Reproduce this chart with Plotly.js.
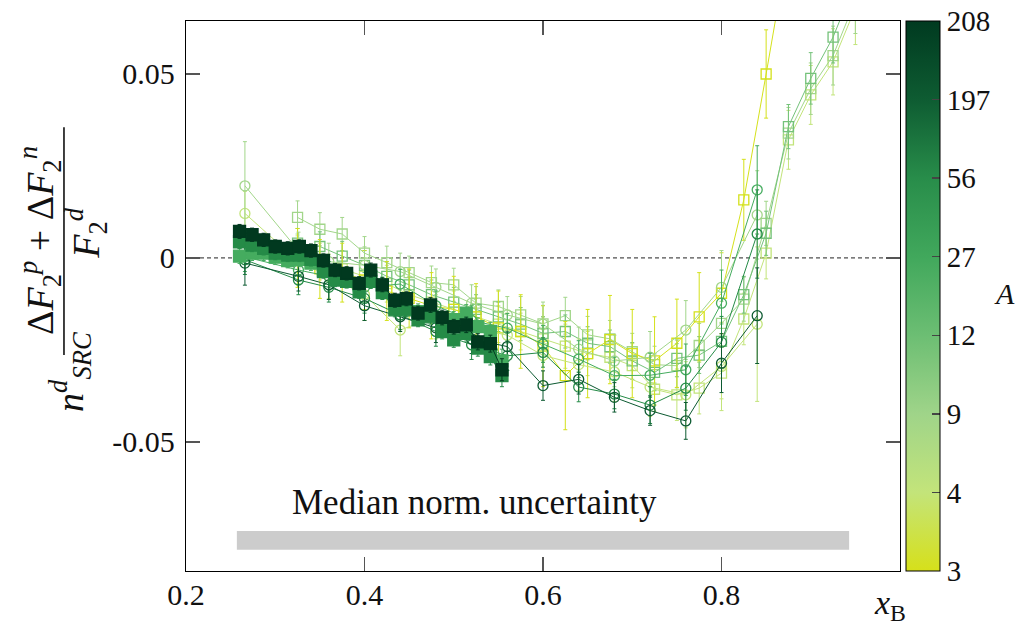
<!DOCTYPE html>
<html>
<head>
<meta charset="utf-8">
<script src="https://cdn.plot.ly/plotly-3.0.1.min.js"></script>
<style>html,body{margin:0;padding:0;background:#fff;}#chart{width:1019px;height:627px;}</style>
</head>
<body>
<div id="chart"></div>
<script>
// ---- colour per nucleus (A) ----
const massNumbers = ['3','4','9','12','27','56','197','208'];
const colA = {'3':'#d4e11b','4':'#c2e47a','9':'#a2d68a','12':'#74c27a','27':'#45ac5f','56':'#258b47','197':'#0c5a31','208':'#01391f'};

// ---- filled squares ----
const xFilled = [0.260,0.274,0.287,0.300,0.314,0.327,0.340,0.354,0.367,0.380,0.394,0.407,0.420,0.434,0.447,0.460,0.474,0.487,0.500,0.514,0.527,0.541,0.554];
const yF208 = [0.0072,0.0063,0.0049,0.0031,0.0026,0.0031,0.0020,-0.0007,-0.0033,-0.0042,-0.0069,-0.0033,-0.0073,-0.0115,-0.0111,-0.0150,-0.0128,-0.0162,-0.0187,-0.0182,-0.0228,-0.0233,-0.0304];
const eF208 = [0.0019,0.0018,0.0018,0.0018,0.0018,0.0018,0.0018,0.0018,0.0018,0.0018,0.0018,0.0019,0.0019,0.0019,0.0019,0.0019,0.0020,0.0020,0.0020,0.0021,0.0022,0.0023,0.0030];
const yF56 = [0.0044,0.0035,0.0026,0.0013,0.0008,0.0008,-0.0004,-0.0037,-0.0060,-0.0064,-0.0092,-0.0064,-0.0094,-0.0141,-0.0141,-0.0168,-0.0160,-0.0200,-0.0223,-0.0205,-0.0245,-0.0268,-0.0320];
const eF56 = [0.0018,0.0018,0.0018,0.0018,0.0018,0.0018,0.0018,0.0018,0.0018,0.0018,0.0018,0.0019,0.0019,0.0019,0.0019,0.0019,0.0020,0.0020,0.0020,0.0021,0.0022,0.0023,0.0030];
const yF27 = [0.0005,0.0013,0.0013,0.0002,-0.0007,-0.0004,-0.0014,-0.0033,-0.0046,-0.0055,-0.0073,-0.0051,-0.0073,-0.0123,-0.0128,-0.0146,-0.0141,-0.0178,-0.0168,-0.0150,-0.0187,-0.0200,-0.0280];
const eF27 = [0.0020,0.0020,0.0020,0.0020,0.0020,0.0020,0.0020,0.0020,0.0020,0.0020,0.0020,0.0021,0.0021,0.0021,0.0021,0.0021,0.0022,0.0022,0.0022,0.0023,0.0024,0.0025,0.0032];

// ---- open squares ----
const xSq = [0.325,0.35,0.375,0.4,0.425,0.45,0.475,0.5,0.525,0.55,0.575,0.6,0.625,0.65,0.675,0.7,0.725,0.75,0.775,0.8,0.825,0.85,0.875,0.9,0.925,0.95];
const xSq3 = [0.325,0.35,0.375,0.4,0.425,0.45,0.475,0.5,0.525,0.55,0.575,0.6,0.625,0.65,0.675,0.7,0.725,0.75,0.775,0.8,0.825,0.85,0.875];
const ySq3 = [0.000,-0.003,-0.004,-0.006,-0.009,-0.011,-0.013,-0.014,-0.016,-0.019,-0.020,-0.024,-0.032,-0.026,-0.0222,-0.026,-0.028,-0.0232,-0.016,-0.0096,0.0158,0.050,0.085];
const eSq3 = [0.008,0.008,0.008,0.008,0.008,0.008,0.009,0.009,0.009,0.010,0.010,0.011,0.0147,0.012,0.012,0.012,0.012,0.012,0.012,0.011,0.011,0.012,0.013];
const ySq4 = [0.001,-0.001,-0.003,-0.005,-0.007,-0.010,-0.012,-0.014,-0.016,-0.018,-0.020,-0.022,-0.024,-0.026,-0.027,-0.0293,-0.0357,-0.0372,-0.0354,-0.0313,-0.0166,0.0013,0.0321,0.0443,0.0533,0.068];
const eSq4 = [0.005,0.005,0.005,0.005,0.005,0.005,0.005,0.005,0.005,0.005,0.005,0.006,0.006,0.006,0.006,0.006,0.006,0.007,0.007,0.007,0.007,0.007,0.008,0.008,0.009,0.010];
const ySq9 = [0.011,0.0078,0.0065,0.0013,-0.0013,-0.004,-0.0067,-0.0073,-0.0123,-0.0132,-0.0155,-0.0179,-0.0157,-0.0209,-0.022,-0.0255,-0.029,-0.0293,-0.0238,-0.0178,-0.0112,0.0094,0.0339,0.046,0.055,0.070];
const eSq9 = [0.0045,0.0045,0.0045,0.0045,0.0045,0.0045,0.0045,0.0045,0.0045,0.0045,0.005,0.005,0.005,0.005,0.005,0.005,0.005,0.006,0.006,0.006,0.006,0.006,0.007,0.007,0.008,0.009];
const ySq12 = [0.004,0.0031,0.0005,-0.002,-0.005,-0.0073,-0.010,-0.012,-0.014,-0.016,-0.018,-0.0205,-0.020,-0.0232,-0.0241,-0.028,-0.0311,-0.0273,-0.0264,-0.0227,-0.010,0.0067,0.0357,0.0488,0.060,0.075];
const eSq12 = [0.004,0.004,0.004,0.004,0.004,0.004,0.004,0.004,0.004,0.004,0.0045,0.0045,0.0045,0.0045,0.0045,0.005,0.005,0.005,0.005,0.005,0.005,0.006,0.006,0.007,0.007,0.008];

// ---- open circles ----
const xC = [0.266,0.326,0.36,0.40,0.44,0.48,0.52,0.56,0.60,0.64,0.68,0.72,0.76,0.80,0.84];
const yC4 = [0.0121,-0.001,-0.005,-0.010,-0.0196,-0.016,-0.019,-0.021,-0.0265,-0.029,-0.031,-0.0351,-0.0372,-0.0295,-0.018];
const eC4 = [0.006,0.006,0.006,0.007,0.007,0.006,0.006,0.006,0.007,0.007,0.008,0.008,0.009,0.012,0.021];
const yC9 = [0.0196,0.002,-0.001,-0.002,-0.0037,-0.008,-0.0123,-0.0155,-0.018,-0.0248,-0.028,-0.027,-0.0196,-0.008,0.0117];
const eC9 = [0.012,0.005,0.005,0.005,0.005,0.005,0.005,0.005,0.006,0.006,0.007,0.007,0.008,0.010,0.012];
const yC27 = [0.0003,-0.0033,-0.005,-0.008,-0.0071,-0.013,-0.017,-0.0191,-0.0234,-0.0275,-0.032,-0.0319,-0.0304,-0.0123,0.0185];
const eC27 = [0.004,0.004,0.004,0.004,0.004,0.004,0.004,0.004,0.005,0.005,0.005,0.006,0.007,0.009,0.012];
const yC56 = [-0.0005,-0.006,-0.008,-0.011,-0.0155,-0.020,-0.0236,-0.0266,-0.0257,-0.0351,-0.037,-0.040,-0.0354,-0.0229,0.0065];
const eC56 = [0.004,0.004,0.004,0.004,0.004,0.004,0.004,0.004,0.004,0.004,0.004,0.005,0.006,0.007,0.012];
const yC197 = [-0.0014,-0.005,-0.0073,-0.013,-0.016,-0.019,-0.022,-0.0241,-0.0347,-0.033,-0.0379,-0.0415,-0.0443,-0.0286,-0.0157];
const eC197 = [0.006,0.004,0.004,0.004,0.004,0.004,0.004,0.004,0.004,0.004,0.004,0.004,0.005,0.008,0.013];

// ---- uncertainty band ----
const bandX = [0.257, 0.943];
const bandY = [-0.0793, -0.0742];
const bandLabel = 'Median norm. uncertainty';

const SERIF = 'Liberation Serif, DejaVu Serif, serif';

function series(x, y, e, A, symbol, size, opts) {
  const c = colA[A];
  return Object.assign({
    type: 'scatter', mode: 'lines+markers', x: x, y: y,
    name: 'A=' + A, showlegend: false, cliponaxis: true,
    line: {color: c, width: 1},
    marker: {symbol: symbol, size: size, color: c, line: {color: c, width: 1.3}},
    error_y: {type: 'data', array: e, visible: true, color: c, thickness: 1, width: 2}
  }, opts || {});
}

const traces = [
  series(xSq, ySq4, eSq4, '4', 'square-open', 10),
  series(xSq, ySq9, eSq9, '9', 'square-open', 10),
  series(xSq, ySq12, eSq12, '12', 'square-open', 10),
  series(xSq3, ySq3, eSq3, '3', 'square-open', 10),
  series(xC, yC4, eC4, '4', 'circle-open', 10),
  series(xC, yC9, eC9, '9', 'circle-open', 10),
  series(xC, yC27, eC27, '27', 'circle-open', 10),
  series(xC, yC56, eC56, '56', 'circle-open', 10),
  series(xC, yC197, eC197, '197', 'circle-open', 10),
  series(xFilled, yF27, eF27, '27', 'square', 12),
  series(xFilled, yF56, eF56, '56', 'square', 12),
  series(xFilled, yF208, eF208, '208', 'square', 12),
  {
    type: 'scatter', mode: 'markers', x: [null], y: [null], showlegend: false, hoverinfo: 'skip',
    marker: {
      color: [0], cmin: 0, cmax: 7, showscale: true,
      colorscale: [[0,'#d6e01a'],[0.143,'#c3e47a'],[0.286,'#9fd489'],[0.429,'#6cbe73'],[0.571,'#41a85c'],[0.714,'#288d4a'],[0.857,'#0e5c32'],[1,'#003a20']],
      colorbar: {
        x: 1.0084, xanchor: 'left', y: 0.5, yanchor: 'middle', len: 1, lenmode: 'fraction',
        thickness: 34, thicknessmode: 'pixels', xpad: 0, ypad: 0,
        outlinecolor: '#000', outlinewidth: 1,
        tickvals: [0,1,2,3,4,5,6,7], ticktext: massNumbers,
        ticks: 'inside', ticklen: 8, tickcolor: '#444', tickwidth: 1.5,
        tickfont: {family: SERIF, size: 29, color: '#111'}
      }
    }
  }
];

const layout = {
  width: 1019, height: 627,
  margin: {l: 186, r: 119, t: 21, b: 56, pad: 0},
  paper_bgcolor: '#fff', plot_bgcolor: '#fff',
  font: {family: SERIF, color: '#111'},
  showlegend: false,
  xaxis: {
    range: [0.2, 1.0], tickvals: [0.2,0.4,0.6,0.8], ticktext: ['0.2','0.4','0.6','0.8'],
    ticks: 'inside', ticklen: 14, tickwidth: 1.5, tickcolor: '#555',
    showline: true, linecolor: '#000', linewidth: 1.2, mirror: 'ticks',
    showgrid: false, zeroline: false, tickfont: {family: SERIF, size: 30, color: '#111'},
    ticklabelstandoff: -3
  },
  yaxis: {
    range: [-0.0851, 0.0644], tickvals: [0.05, 0, -0.05], ticktext: ['0.05','0','-0.05'],
    ticks: 'inside', ticklen: 14, tickwidth: 1.5, tickcolor: '#555',
    showline: true, linecolor: '#000', linewidth: 1.2, mirror: 'ticks',
    showgrid: false, zeroline: false, tickfont: {family: SERIF, size: 30, color: '#111'},
    ticklabelstandoff: 4
  },
  shapes: [
    {type: 'line', xref: 'paper', x0: 0, x1: 1, yref: 'y', y0: 0, y1: 0,
     line: {color: '#222', width: 1, dash: '4px,3px'}, layer: 'below'},
    {type: 'rect', xref: 'x', x0: bandX[0], x1: bandX[1], yref: 'y', y0: bandY[0], y1: bandY[1],
     fillcolor: '#cccccc', line: {width: 0}, layer: 'below'},
    {type: 'line', xref: 'paper', yref: 'paper', x0: -0.1709, x1: -0.1709, y0: 0.3927, y1: 0.807,
     line: {color: '#000', width: 1.5}}
  ],
  annotations: [
    {xref: 'x', yref: 'y', x: 0.5234, y: -0.0666, xanchor: 'center', yanchor: 'middle', text: bandLabel, showarrow: false,
     font: {family: SERIF, size: 35, color: '#111'}},
    {xref: 'paper', yref: 'paper', x: 0.986, y: -0.062, xanchor: 'center', yanchor: 'middle', text: '<i>x</i><sub>B</sub>', showarrow: false,
     font: {family: SERIF, size: 34, color: '#111'}},
    {xref: 'paper', yref: 'paper', x: 1.147, y: 0.505, xanchor: 'center', yanchor: 'middle', text: '<i>A</i>', showarrow: false,
     font: {family: SERIF, size: 30, color: '#111'}},
    {xref: 'paper', yref: 'paper', x: -0.2045, y: 0.6018, xanchor: 'center', yanchor: 'middle', textangle: -90, showarrow: false,
     text: 'Δ<i>F</i><sub>2</sub><sup><i>p</i></sup> + Δ<i>F</i><sub>2</sub><sup><i>n</i></sup>',
     font: {family: SERIF, size: 38, color: '#111'}},
    {xref: 'paper', yref: 'paper', x: -0.140, y: 0.615, xanchor: 'center', yanchor: 'middle', textangle: -90, showarrow: false,
     text: '<i>F</i><sub>2</sub><sup><i>d</i></sup>',
     font: {family: SERIF, size: 38, color: '#111'}},
    {xref: 'paper', yref: 'paper', x: -0.1625, y: 0.362, xanchor: 'center', yanchor: 'middle', textangle: -90, showarrow: false,
     text: '<i>n</i><sup><i>d</i></sup><sub><i>SRC</i></sub>',
     font: {family: SERIF, size: 38, color: '#111'}}
  ]
};

Plotly.newPlot('chart', traces, layout, {displayModeBar: false, staticPlot: true});
</script>
</body>
</html>
